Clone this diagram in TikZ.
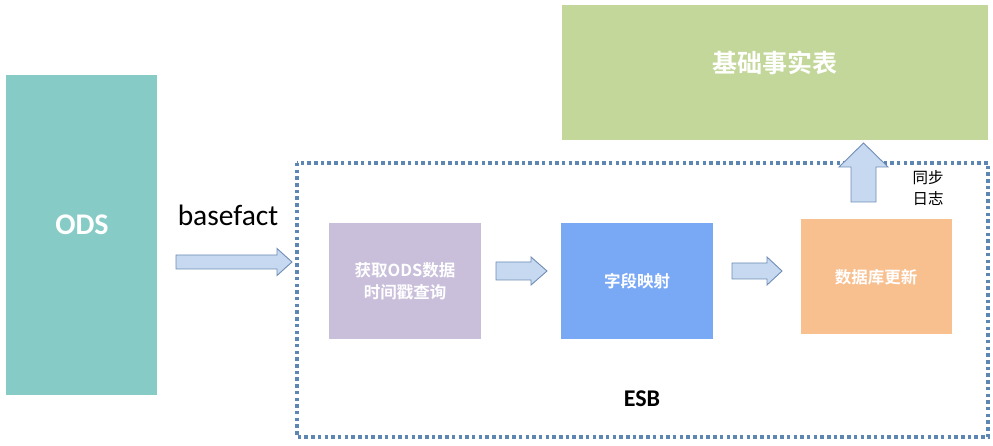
\documentclass[tikz,border=0pt]{standalone}
\usepackage{fontspec}
\setmainfont{Carlito}
\newfontfamily\cjk{Noto Sans CJK SC}[BoldFont={Noto Sans CJK SC Bold}]
\usetikzlibrary{calc}
\definecolor{odsc}{HTML}{86CBC6}
\definecolor{lavc}{HTML}{C9BFDB}
\definecolor{bluec}{HTML}{79A8F5}
\definecolor{orangec}{HTML}{F8BF8F}
\definecolor{greenc}{HTML}{C4D79B}
\definecolor{arrfill}{HTML}{C6D9F1}
\definecolor{arrdraw}{HTML}{6F8DB5}
\definecolor{dotc}{HTML}{5E86B3}
\tikzset{
  box/.style={fill=#1, draw=none, inner sep=0pt},
  cjkw/.style={text=white, font=\cjk\bfseries\fontsize{16.5}{22}\selectfont, align=center},
  blk/.style={fill=arrfill, draw=arrdraw, line width=0.9pt, line join=miter},
}
% #1 start, #2 tip, #3 body half width, #4 head half width, #5 head length
\newcommand\blkarrow[5]{%
  \coordinate (hb) at ($(#2)!#5!(#1)$);
  \draw[blk] ($(#1)!#3!90:(#2)$) -- ($(hb)!#3!-90:(#1)$) -- ($(hb)!#4!-90:(#1)$) -- (#2)
    -- ($(hb)!#4!90:(#1)$) -- ($(hb)!#3!90:(#1)$) -- ($(#1)!#3!-90:(#2)$) -- cycle;
}
\begin{document}
\begin{tikzpicture}[x=1pt,y=-1pt]
\useasboundingbox (0,0) rectangle (993,446);
% ODS
\path[box=odsc] (6,75) rectangle (157,395);
\node[text=white, font=\bfseries\fontsize{30}{32}\selectfont] (ods) at (82,225) {ODS};
% top box
\path[box=greenc] (562,5) rectangle (988,140);
\node[cjkw, font=\cjk\bfseries\fontsize{25}{30}\selectfont] (fact) at (775,63) {基础事实表};
% ESB dotted box
\draw[dotc, line width=3.5pt, dash pattern=on 3.5pt off 3.2pt] (297,163) rectangle (988,437);
\node[font=\bfseries\fontsize{24}{28}\selectfont] (esb) at (642,399) {ESB};
% inner boxes
\path[box=lavc] (329,223) rectangle (481,339);
\node[cjkw] (b1) at (405,281) {获取ODS数据\\时间戳查询};
\path[box=bluec] (561,223) rectangle (713,339);
\node[cjkw] (b2) at (637,281) {字段映射};
\path[box=orangec] (801,219) rectangle (952,334);
\node[cjkw] (b3) at (876,277) {数据库更新};
% labels
\node[font=\fontsize{29.5}{32}\selectfont] (bf) at (228,215) {basefact};
\node[font=\cjk\fontsize{15.5}{21}\selectfont, align=left] (sync) at (928,188) {同步\\日志};
% arrows
\coordinate (a1s) at (176,262);
\coordinate (a1e) at (292,262);
\blkarrow{a1s}{a1e}{7pt}{13.5pt}{15pt}
\coordinate (a2s) at (496,271);
\coordinate (a2e) at (547,271);
\blkarrow{a2s}{a2e}{9pt}{14pt}{16pt}
\coordinate (a3s) at (732,271);
\coordinate (a3e) at (782,271);
\blkarrow{a3s}{a3e}{8pt}{14pt}{15pt}
\coordinate (a4s) at (863.5,202);
\coordinate (a4e) at (863.5,143);
\blkarrow{a4s}{a4e}{12.5pt}{24.5pt}{24pt}
\end{tikzpicture}
\end{document}
